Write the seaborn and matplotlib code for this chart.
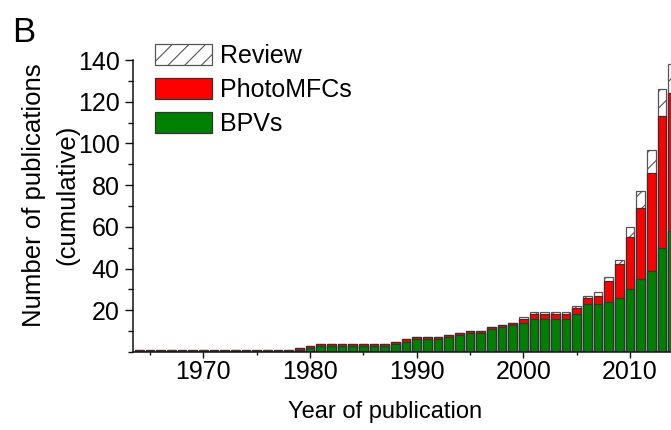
import matplotlib
matplotlib.use("Agg")
import matplotlib.pyplot as plt
import seaborn as sns
import pandas as pd
from matplotlib.patches import Patch
from matplotlib.ticker import MultipleLocator

# ---- data ----
years = list(range(1964, 2015))
bpvs = [0, 0, 0, 0, 0, 0, 0, 0, 0, 0, 0, 0, 0, 0, 0,
        1, 2, 3, 3, 3, 3, 3, 3, 3, 4,
        5, 6, 6, 6, 7, 8, 9, 9, 11, 12,
        13, 14, 16, 16, 16, 16, 18, 23, 23, 24,
        26, 30, 35, 39, 50, 58]
photomfcs = [1, 1, 1, 1, 1, 1, 1, 1, 1, 1, 1, 1, 1, 1, 1,
             1, 1, 1, 1, 1, 1, 1, 1, 1, 1,
             1, 1, 1, 1, 1, 1, 1, 1, 1, 1,
             1, 2, 2, 2, 2, 2, 3, 3, 4, 10,
             16, 25, 34, 47, 63, 66]
review = [0, 0, 0, 0, 0, 0, 0, 0, 0, 0, 0, 0, 0, 0, 0,
          0, 0, 0, 0, 0, 0, 0, 0, 0, 0,
          0, 0, 0, 0, 0, 0, 0, 0, 0, 0,
          0, 1, 1, 1, 1, 1, 1, 1, 2, 2,
          2, 5, 8, 11, 13, 14]
series_labels = ["Review", "PhotoMFCs", "BPVs"]
yticks = [20, 40, 60, 80, 100, 120, 140]
xticks = [1970, 1980, 1990, 2000, 2010]

df = pd.DataFrame({"year": years, "BPVs": bpvs,
                   "PhotoMFCs": photomfcs, "Review": review})
df["top_red"] = df["BPVs"] + df["PhotoMFCs"]
df["top_all"] = df["top_red"] + df["Review"]

sns.set_style("ticks")
plt.rcParams["font.family"] = ["Liberation Sans", "DejaVu Sans"]
plt.rcParams["hatch.color"] = "#8a8a8a"
plt.rcParams["hatch.linewidth"] = 0.8
for k in ["text.color", "axes.labelcolor", "xtick.color", "ytick.color"]:
    plt.rcParams[k] = "black"

GREEN = "#008000"
RED = "#ff0000"
EDGE = "#333333"

fig = plt.figure(figsize=(6.71, 4.30), dpi=100)
ax = fig.add_axes([133 / 671, 78 / 430, 538 / 671, 292 / 430])

common = dict(native_scale=True, width=0.8, saturation=1, errorbar=None,
              linewidth=0.9, ax=ax)
sns.barplot(data=df, x="year", y="top_all", color="white", edgecolor="#555555",
            hatch="//", **common)
sns.barplot(data=df, x="year", y="top_red", color=RED, edgecolor=EDGE, **common)
sns.barplot(data=df, x="year", y="BPVs", color=GREEN, edgecolor=EDGE, **common)

ax.set_xlim(1963.41, 2013.84)
ax.set_ylim(0, 140)
ax.set_xticks(xticks)
ax.set_xticklabels([str(t) for t in xticks])
ax.xaxis.set_minor_locator(MultipleLocator(5))
ax.set_yticks(yticks)
ax.set_yticklabels([str(t) for t in yticks])
ax.yaxis.set_minor_locator(MultipleLocator(10))

ax.tick_params(axis="x", which="major", labelsize=18, length=4, width=1,
               direction="out", color="#111111", pad=2)
ax.tick_params(axis="x", which="minor", length=2.5, width=1,
               direction="out", color="#111111")
ax.tick_params(axis="y", which="major", labelsize=18, length=6, width=1,
               direction="out", color="#111111", pad=3.5)
ax.tick_params(axis="y", which="minor", length=3.5, width=1,
               direction="out", color="#111111")
for s in ["top", "right"]:
    ax.spines[s].set_visible(False)
for s in ["left", "bottom"]:
    ax.spines[s].set_linewidth(1.1)
    ax.spines[s].set_color("#111111")

ax.set_xlabel("Year of publication", fontsize=17)
ax.xaxis.set_label_coords(0.468, -0.168)
ax.set_ylabel("Number of publications\n(cumulative)", fontsize=18.5,
              linespacing=1.5)
ax.yaxis.set_label_coords(-0.100, 0.538)

handles = [Patch(facecolor="white", edgecolor="#555555", hatch="//", linewidth=0.9),
           Patch(facecolor=RED, edgecolor=EDGE, linewidth=0.9),
           Patch(facecolor=GREEN, edgecolor=EDGE, linewidth=0.9)]
fig.legend(handles, series_labels, loc="upper left",
           bbox_to_anchor=(155 / 671, 1 - 44 / 430), frameon=False,
           fontsize=18, handlelength=2.28, handleheight=0.88,
           handletextpad=0.32, labelspacing=0.4, borderpad=0,
           borderaxespad=0)

fig.text(12 / 671, 1 - 42 / 430, "B", fontsize=25, va="baseline", ha="left")

fig.savefig("out.png", dpi=100)
